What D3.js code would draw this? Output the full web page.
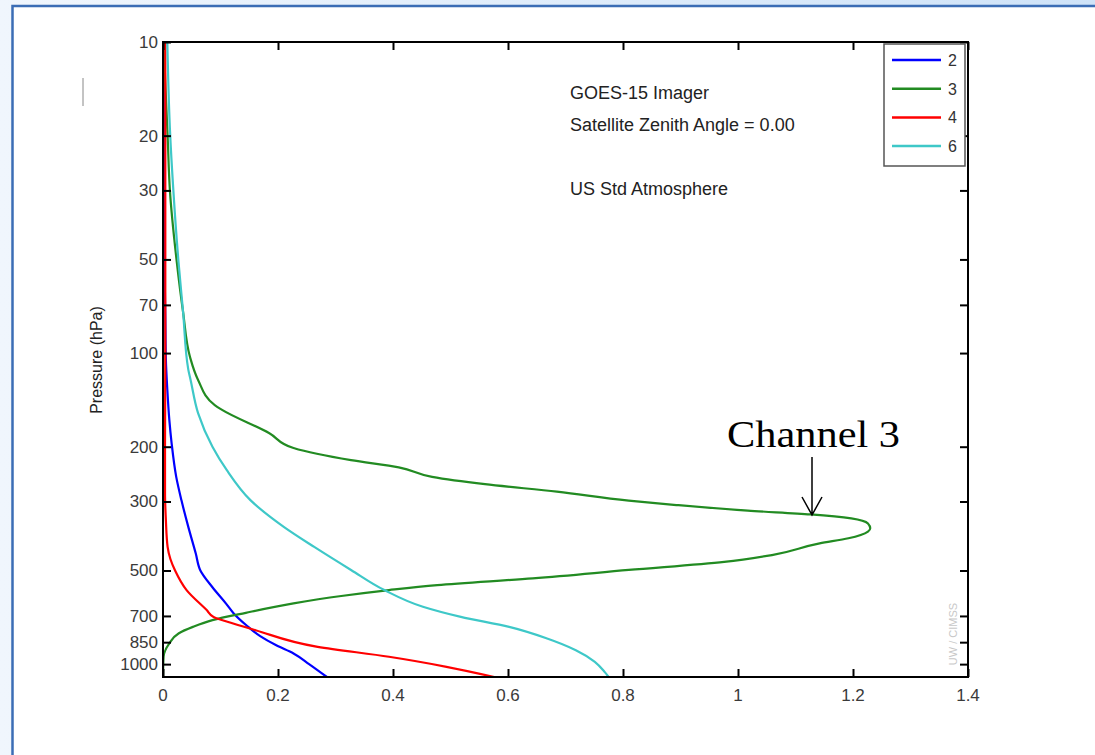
<!DOCTYPE html>
<html>
<head>
  <title>GOES-15 Imager Weighting Functions</title>
  <script src="https://d3js.org/d3.v7.min.js"></script>
  <style>
    body { margin: 0; }
    .curve { fill: none; stroke-width: 2.2px; }
  </style>
</head>
<body>
  <svg id="wf_chart" width="1095" height="755"></svg>

  <script>
    // Weighting function values (pressure in hPa, weight)
    var ch2Pressure = [10, 42, 76, 105, 131, 164, 195, 250, 297, 362, 441, 500, 566, 640, 687, 750, 813, 870, 924, 1000, 1100];
    var ch2Weight   = [0.001, 0.002, 0.004, 0.005, 0.0075, 0.011, 0.015, 0.023, 0.032, 0.044, 0.057, 0.065, 0.086, 0.11, 0.123, 0.145, 0.169, 0.197, 0.227, 0.254, 0.285];

    var ch3Pressure = [10, 12, 16.5, 20, 30, 51, 74, 103, 122, 147, 152, 181, 202, 221, 233, 250, 264, 279, 298, 308, 321, 330, 340, 353, 366, 375, 394, 409, 446, 469, 498, 530, 557, 578, 604, 638, 684, 722, 759, 797, 858, 947, 1100];
    var ch3Weight   = [0.002, 0.003, 0.006, 0.008, 0.012, 0.024, 0.035, 0.047, 0.061, 0.090, 0.102, 0.185, 0.227, 0.327, 0.410, 0.468, 0.560, 0.685, 0.810, 0.893, 1.017, 1.126, 1.197, 1.226, 1.230, 1.226, 1.192, 1.142, 1.059, 0.976, 0.810, 0.643, 0.477, 0.393, 0.310, 0.227, 0.144, 0.086, 0.052, 0.027, 0.011, 0.001, 0];

    var ch4Pressure = [10, 100, 200, 282, 344, 420, 460, 500, 578, 670, 705, 740, 778, 880, 947, 1020, 1100];
    var ch4Weight   = [0.004, 0.004, 0.0035, 0.0035, 0.005, 0.008, 0.013, 0.021, 0.041, 0.076, 0.088, 0.122, 0.161, 0.269, 0.393, 0.493, 0.576];

    var ch6Pressure = [10, 19, 30, 51, 74, 113, 122, 156, 200, 238, 297, 362, 420, 498, 578, 654, 705, 759, 827, 902, 983, 1059, 1100];
    var ch6Weight   = [0.0075, 0.012, 0.018, 0.027, 0.035, 0.044, 0.048, 0.061, 0.086, 0.111, 0.152, 0.210, 0.263, 0.327, 0.385, 0.452, 0.518, 0.602, 0.668, 0.718, 0.751, 0.768, 0.775];

    var channels = ["2", "3", "4", "6"];
    var colors = ["#0000ff", "#228b22", "#ff0000", "#3ec8c8"];
    var pressureTicks = [10, 20, 30, 50, 70, 100, 200, 300, 500, 700, 850, 1000];
    var weightTicks = [0, 0.2, 0.4, 0.6, 0.8, 1, 1.2, 1.4];
    var infoLines = ["GOES-15 Imager", "Satellite Zenith Angle = 0.00", "", "US Std Atmosphere"];

    var series = [
      { name: channels[0], p: ch2Pressure, w: ch2Weight },
      { name: channels[1], p: ch3Pressure, w: ch3Weight },
      { name: channels[2], p: ch4Pressure, w: ch4Weight },
      { name: channels[3], p: ch6Pressure, w: ch6Weight }
    ];

    var svg = d3.select("#wf_chart");

    // page background and frame
    var defs = svg.append("defs");
    var grad = defs.append("linearGradient").attr("id", "bg").attr("x1", "0").attr("x2", "1").attr("y1", "0").attr("y2", "0");
    grad.append("stop").attr("offset", "0%").attr("stop-color", "#f0f6fd");
    grad.append("stop").attr("offset", "100%").attr("stop-color", "#cfe3f8");
    svg.append("rect").attr("width", 1095).attr("height", 755).attr("fill", "url(#bg)");
    svg.append("rect")
      .attr("x", 12.5).attr("y", 6)
      .attr("width", 1100).attr("height", 760)
      .attr("fill", "#ffffff")
      .attr("stroke", "#3b6db5")
      .attr("stroke-width", 2.5);

    // plot area
    var plotL = 163, plotR = 968, plotT = 42, plotB = 677;

    var xScale = d3.scaleLinear().domain([0, 1.4]).range([plotL, plotR]);
    var yScale = d3.scaleLog().domain([10, 1100]).range([plotT, plotB]);

    var font = "'Liberation Sans', Arial, sans-serif";

    // curves
    var line = d3.line()
      .x(function(d) { return xScale(d[1]); })
      .y(function(d) { return yScale(d[0]); })
      .curve(d3.curveMonotoneY);

    defs.append("clipPath").attr("id", "clip")
      .append("rect").attr("x", plotL).attr("y", plotT).attr("width", plotR - plotL).attr("height", plotB - plotT);

    var plot = svg.append("g").attr("clip-path", "url(#clip)");
    series.forEach(function(s, i) {
      var pts = s.p.map(function(p, k) { return [p, s.w[k]]; });
      plot.append("path")
        .datum(pts)
        .attr("class", "curve")
        .attr("d", line)
        .style("stroke", colors[i]);
    });

    // axes with inward ticks on all four sides
    var tickLen = 8;
    var axisL = d3.axisRight(yScale).tickValues(pressureTicks).tickSize(tickLen).tickFormat("");
    var axisR = d3.axisLeft(yScale).tickValues(pressureTicks).tickSize(tickLen).tickFormat("");
    var axisB = d3.axisTop(xScale).tickValues(weightTicks).tickSize(tickLen).tickFormat("");
    var axisT = d3.axisBottom(xScale).tickValues(weightTicks).tickSize(tickLen).tickFormat("");

    function styleAxis(g) {
      g.select(".domain").remove();
      g.selectAll(".tick line").attr("stroke", "#000").attr("stroke-width", 2);
    }
    svg.append("g").attr("transform", "translate(" + plotL + ",0)").call(axisL).call(styleAxis);
    svg.append("g").attr("transform", "translate(" + plotR + ",0)").call(axisR).call(styleAxis);
    svg.append("g").attr("transform", "translate(0," + plotB + ")").call(axisB).call(styleAxis);
    svg.append("g").attr("transform", "translate(0," + plotT + ")").call(axisT).call(styleAxis);

    svg.append("rect")
      .attr("x", plotL).attr("y", plotT)
      .attr("width", plotR - plotL).attr("height", plotB - plotT)
      .attr("fill", "none").attr("stroke", "#000").attr("stroke-width", 2);

    // tick labels
    svg.append("g").selectAll("text")
      .data(pressureTicks)
      .enter().append("text")
      .attr("x", plotL - 5)
      .attr("y", function(d) { return yScale(d) + 6; })
      .attr("text-anchor", "end")
      .style("font-family", font).style("font-size", "17px").style("fill", "#3a3a3a")
      .text(function(d) { return d; });

    svg.append("g").selectAll("text")
      .data(weightTicks)
      .enter().append("text")
      .attr("x", function(d) { return xScale(d); })
      .attr("y", plotB + 24)
      .attr("text-anchor", "middle")
      .style("font-family", font).style("font-size", "17px").style("fill", "#3a3a3a")
      .text(function(d) { return d; });

    svg.append("text")
      .attr("transform", "translate(102,360) rotate(-90)")
      .attr("text-anchor", "middle")
      .style("font-family", font).style("font-size", "16px").style("fill", "#222")
      .text("Pressure (hPa)");

    // stray mark at left of the figure
    svg.append("line")
      .attr("x1", 83).attr("x2", 83).attr("y1", 78).attr("y2", 106)
      .attr("stroke", "#888").attr("stroke-width", 1);

    // info text
    svg.append("g").selectAll("text")
      .data(infoLines)
      .enter().append("text")
      .attr("x", 570)
      .attr("y", function(d, i) { return 99 + i * 32; })
      .style("font-family", font).style("font-size", "18px").style("fill", "#222")
      .text(function(d) { return d; });

    // legend
    var legend = svg.append("g").attr("class", "legend");
    legend.append("rect")
      .attr("x", 884).attr("y", 44).attr("width", 81).attr("height", 122)
      .attr("fill", "#fff").attr("stroke", "#555").attr("stroke-width", 1.5);
    channels.forEach(function(c, i) {
      var y = 60 + i * 28.7;
      legend.append("line")
        .attr("x1", 892).attr("x2", 941).attr("y1", y).attr("y2", y)
        .attr("stroke", colors[i]).attr("stroke-width", 2.5);
      legend.append("text")
        .attr("x", 948).attr("y", y + 6)
        .style("font-family", font).style("font-size", "16px").style("fill", "#333")
        .text(c);
    });

    // watermark
    svg.append("text")
      .attr("transform", "translate(957,634) rotate(-90)")
      .attr("text-anchor", "middle")
      .style("font-family", font).style("font-size", "11px").style("fill", "#c8c8c8")
      .text("UW / CIMSS");

    // Channel 3 annotation
    svg.append("text")
      .attr("x", 727).attr("y", 447)
      .attr("textLength", 173).attr("lengthAdjust", "spacingAndGlyphs")
      .style("font-family", "'Liberation Serif', 'Times New Roman', serif")
      .style("font-size", "37px").style("fill", "#000")
      .text("Channel 3");

    var tipX = 812, tipY = 515;
    svg.append("path")
      .attr("d", "M" + tipX + ",457 L" + tipX + "," + tipY + " M" + (tipX - 10) + "," + (tipY - 18) + " L" + tipX + "," + tipY + " L" + (tipX + 10) + "," + (tipY - 18))
      .attr("fill", "none").attr("stroke", "#000").attr("stroke-width", 1.5);
  </script>
</body>
</html>
